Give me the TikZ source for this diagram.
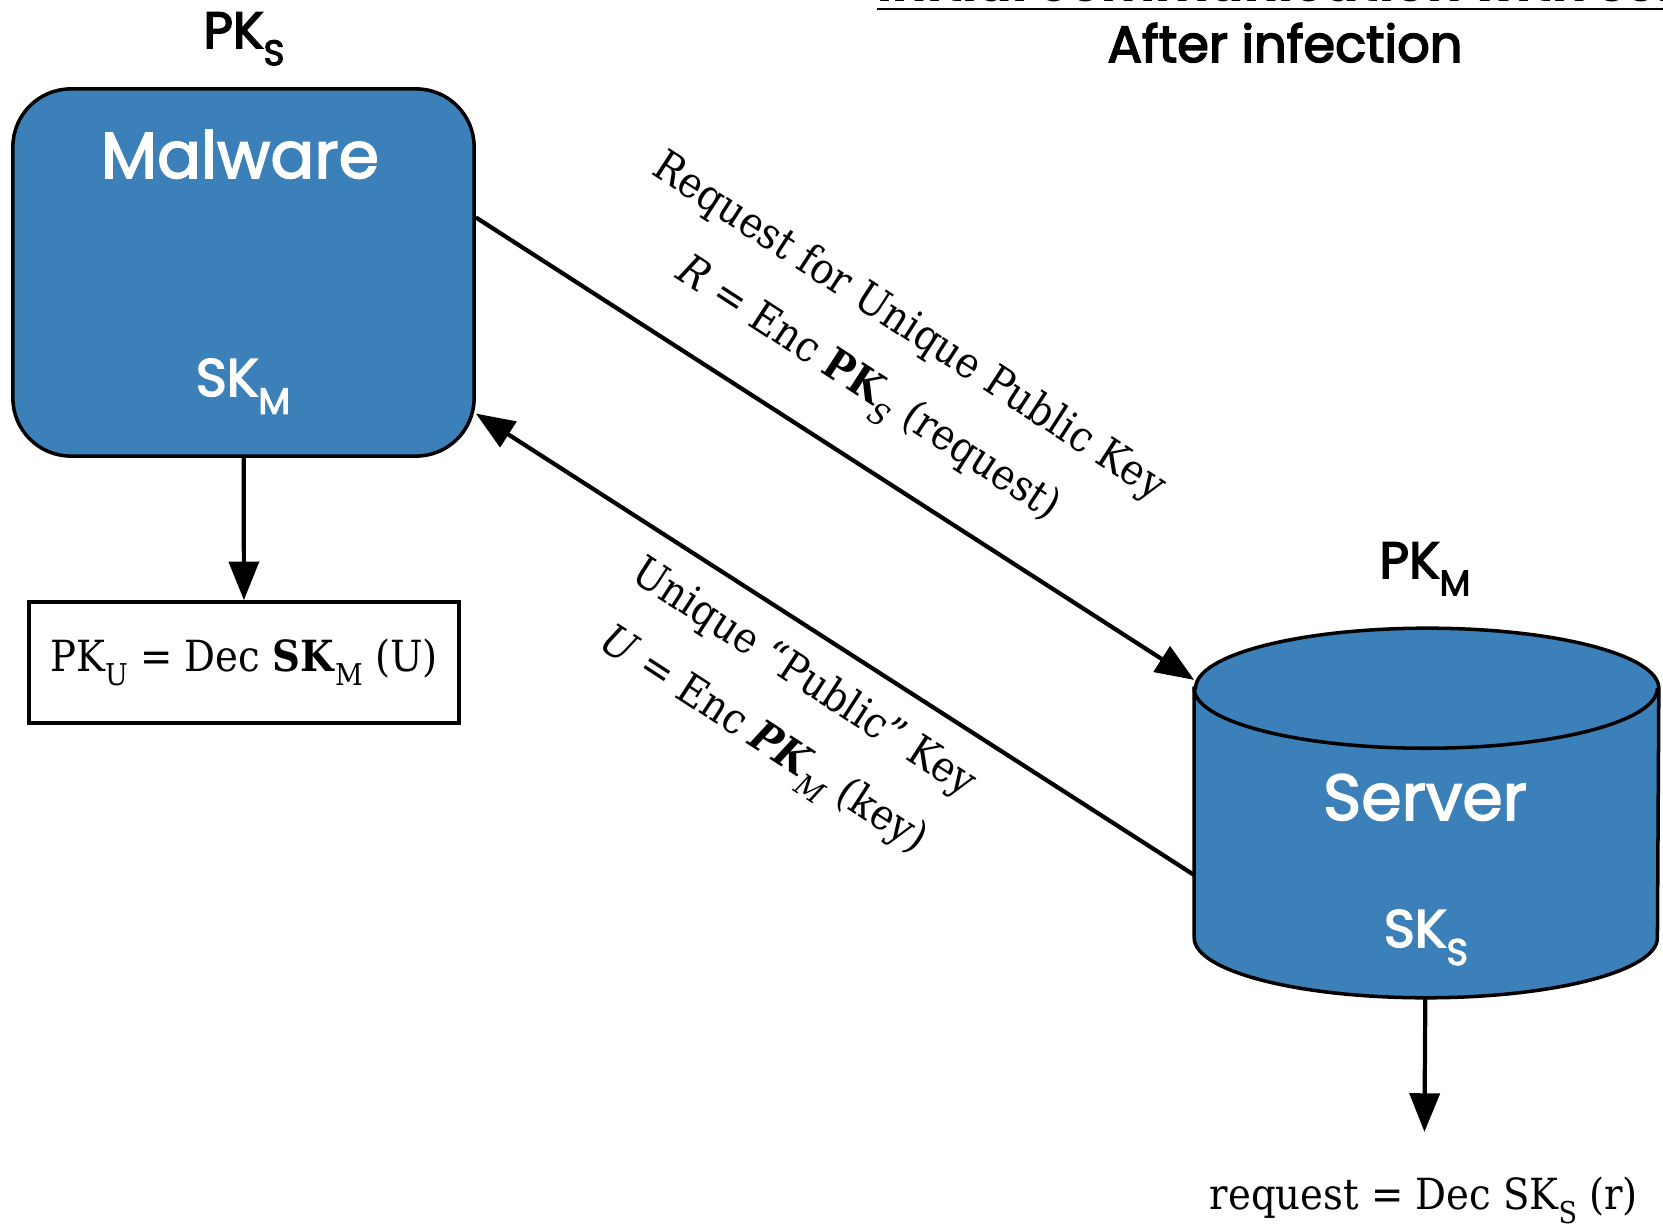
\documentclass[tikz,border=0pt]{standalone}
\usepackage{fontspec}
\usepackage{graphicx}
\setmainfont{DejaVu Serif Condensed}
\newfontfamily\headfont{Poppins}
\usepackage{tikz}
\usetikzlibrary{arrows.meta}
\usetikzlibrary{positioning}
\definecolor{hostBlue}{RGB}{59,128,185}
\newcommand\ksub[1]{\raisebox{-0.34em}{\scalebox{0.7}{#1}}}
\newcommand\strokeOn{\special{pdf:literal direct 2 Tr 0.45 w}}
\newcommand\strokeOff{\special{pdf:literal direct 0 Tr}}
\tikzset{
	host/.style={rectangle, rounded corners=0.58cm, draw=black, line width=1pt, fill=hostBlue, minimum width=4.61cm, minimum height=3.67cm},
	dbBody/.style={rectangle, minimum width=4.63cm, minimum height=3.68cm},
	dbEdge/.style={draw=black, line width=1pt},
	heavy/.style={execute at begin node=\strokeOn, execute at end node=\strokeOff},
	hostName/.style={anchor=base, text=white, heavy, font=\headfont\fontsize{18.5}{22}\selectfont},
	keyName/.style={anchor=base, heavy, font=\headfont\fontsize{14.5}{17}\selectfont},
}

\begin{document}
\begin{tikzpicture} [x=0.01cm, y=-0.01cm,
		msg/.style={-{Triangle[length=11pt,width=8.5pt]}, line width=1.2pt},
		msgText/.style={rotate=-33, align=center, font=\fontsize{12.2}{21}\selectfont},
		calc/.style={rectangle, draw=black, line width=1pt, minimum width=4.30cm, minimum height=1.21cm, font=\fontsize{12.2}{15}\selectfont}]
		
		% fix page size to the picture
		\useasboundingbox (0,0) rectangle (1663,1225);
		
		% title (cut by page top) and subtitle
		\node[anchor=base west, inner sep=0pt, font=\headfont\bfseries\fontsize{14.5}{17}\selectfont] (title) at (877,2) {Initial communication with server};
		\draw[line width=0.7pt] ([yshift=-0.07cm]title.base west) -- ([yshift=-0.07cm]title.base east);
		\node[keyName] (sub) at (1285,62) {After infection};
		
		% create malware host - used as start point
		\node[host] (mal) at (243.5,272.5) {};
		\node[keyName] (malPK) at (244,48) {PK\ksub{S}};
		\node[hostName] (malName) at (240,178) {Malware};
		\node[hostName, font=\headfont\fontsize{15}{18}\selectfont] (malSK) at (243,396) {SK\ksub{M}};
		
		% create server database (body node + drawn cylinder)
		\node[dbBody] (srv) at (1426.5,813) {};
		\filldraw[dbEdge, fill=hostBlue] ([yshift=-0.6cm]srv.north west) -- ([yshift=0.6cm]srv.south west)
			arc[start angle=180, end angle=360, x radius=2.315cm, y radius=0.6cm] -- ([yshift=-0.6cm]srv.north east)
			arc[start angle=0, end angle=180, x radius=2.315cm, y radius=0.6cm] -- cycle;
		\draw[dbEdge] ([yshift=-0.6cm]srv.north west) arc[start angle=180, end angle=360, x radius=2.315cm, y radius=0.6cm];
		\node[keyName] (srvPK) at (1425,578) {PK\ksub{M}};
		\node[hostName] (srvName) at (1425,820) {Server};
		\node[hostName, font=\headfont\fontsize{15}{18}\selectfont] (srvSK) at (1426,947) {SK\ksub{S}};
		
		% decrypt steps
		\node[calc] (decM) at (244,662.5) {PK\ksub{U} = Dec \textbf{SK}\ksub{M} (U)};
		\node[anchor=base, font=\fontsize{12.2}{15}\selectfont] (decS) at (1424,1209) {request = Dec SK\ksub{S} (r)};
		
		% Draw messages between host and server
		\draw[msg] ([yshift=0.55cm]mal.east) -- ([yshift=1.33cm]srv.west); % request
		\draw[msg] ([yshift=-0.62cm]srv.west) -- ([yshift=-1.41cm]mal.east); % reply
		\draw[msg] (mal) -- (decM);
		\draw[msg, shorten >=0.32cm] (srv) -- (decS);
		
		% Label messages
		\node[msgText] (reqText) at (887,361) {Request for Unique Public Key\\ \textit{R} = Enc \textbf{PK}\ksub{\textit{S}} (request)};
		\node[msgText] (keyText) at (782,712) {Unique ``Public'' Key\\ \textit{U} = Enc \textbf{\textit{PK}}\ksub{\textit{M}} (key)};
		
	\end{tikzpicture}
\end{document}
